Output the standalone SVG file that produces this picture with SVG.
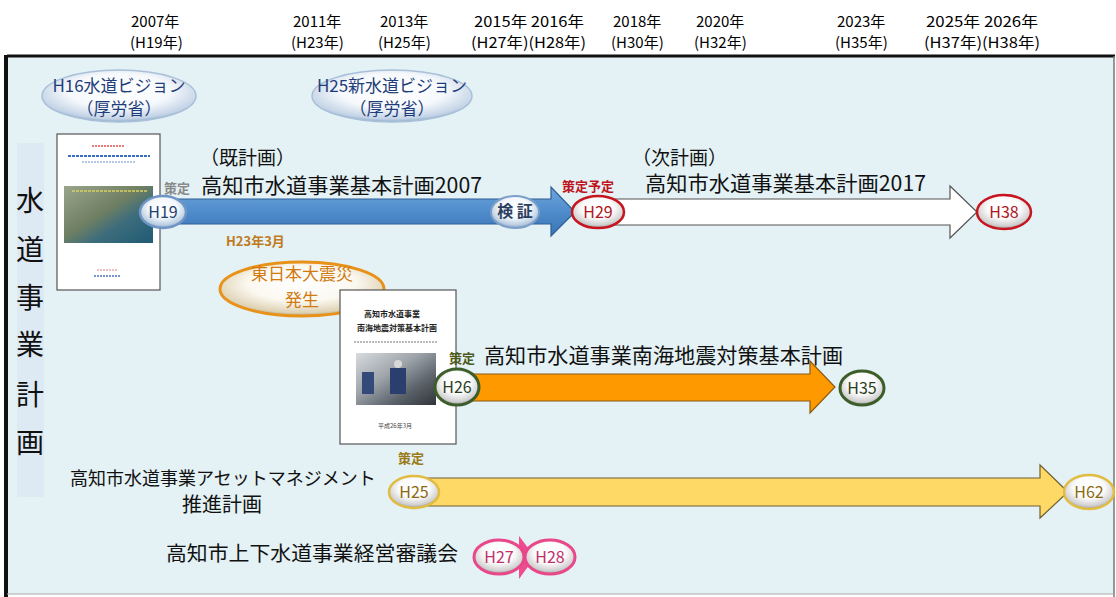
<svg xmlns="http://www.w3.org/2000/svg" width="1116" height="597" viewBox="0 0 1116 597">
<defs>
<radialGradient id="gW" cx="50%" cy="38%" r="62%">
<stop offset="0" stop-color="#ffffff"/><stop offset="0.5" stop-color="#fbfbfb"/><stop offset="0.85" stop-color="#cfcfcf"/><stop offset="1" stop-color="#9a9a9a"/>
</radialGradient>
<radialGradient id="gB" cx="50%" cy="38%" r="62%">
<stop offset="0" stop-color="#ffffff"/><stop offset="0.5" stop-color="#f4f8fc"/><stop offset="0.85" stop-color="#b9cde2"/><stop offset="1" stop-color="#7f9cc0"/>
</radialGradient>
<radialGradient id="gV" cx="50%" cy="40%" r="60%">
<stop offset="0" stop-color="#ffffff"/><stop offset="0.55" stop-color="#f6f9fc"/><stop offset="0.9" stop-color="#c3d3e6"/><stop offset="1" stop-color="#8faccb"/>
</radialGradient>
<radialGradient id="gE" cx="50%" cy="40%" r="60%">
<stop offset="0" stop-color="#ffffff"/><stop offset="0.55" stop-color="#fbf8f0"/><stop offset="0.9" stop-color="#ded2b4"/><stop offset="1" stop-color="#b8a27a"/>
</radialGradient>
<linearGradient id="gBlue" x1="0" y1="0" x2="0" y2="1">
<stop offset="0" stop-color="#6ea6dc"/><stop offset="0.5" stop-color="#4f8ccc"/><stop offset="1" stop-color="#3a74b4"/>
</linearGradient>
<linearGradient id="gPhoto1" x1="0" y1="0" x2="1" y2="1">
<stop offset="0" stop-color="#9aa58c"/><stop offset="0.45" stop-color="#6f7f62"/><stop offset="0.65" stop-color="#3d6d7c"/><stop offset="1" stop-color="#1f5a74"/>
</linearGradient>
<linearGradient id="gPhoto2" x1="0" y1="0" x2="1" y2="1">
<stop offset="0" stop-color="#d8dcdf"/><stop offset="0.4" stop-color="#9ea4aa"/><stop offset="0.7" stop-color="#5c636b"/><stop offset="1" stop-color="#2f3438"/>
</linearGradient>
<style>
text{font-family:"Noto Sans CJK JP","Noto Sans",sans-serif;}
.hd{font-size:15px;fill:#000;}
.lab{font-size:21px;fill:#111;}
.sub{font-size:19px;fill:#111;}
.vt{font-size:28px;fill:#111;text-anchor:middle;}
.nt{font-size:16px;text-anchor:middle;}
.tag{font-size:13px;font-weight:bold;}
.vis{font-size:17px;fill:#1f3d7a;text-anchor:middle;}
.conn{stroke-width:1.2;stroke-linejoin:miter;}
.doc{fill:#fff;stroke:#555;stroke-width:1.2;}
</style>
</defs>

<!-- frame -->
<rect x="7" y="56" width="1107" height="538" fill="#e4f1f5"/>
<line x1="7" y1="56" x2="1115" y2="56" stroke="#111" stroke-width="3"/>
<line x1="6" y1="55" x2="6" y2="597" stroke="#111" stroke-width="4"/>
<line x1="1114" y1="56" x2="1114" y2="597" stroke="#777" stroke-width="1.5"/>
<line x1="7" y1="594" x2="1114" y2="594" stroke="#aaa" stroke-width="1"/>

<!-- header -->
<g id="header">
<text class="hd" x="131" y="27">2007年</text><text class="hd" x="130" y="48">(H19年)</text>
<text class="hd" x="293" y="27">2011年</text><text class="hd" x="291" y="48">(H23年)</text>
<text class="hd" x="380" y="27">2013年</text><text class="hd" x="378" y="48">(H25年)</text>
<text class="hd" x="474" y="27" textLength="110" lengthAdjust="spacingAndGlyphs">2015年 2016年</text><text class="hd" x="471" y="48" textLength="115" lengthAdjust="spacingAndGlyphs">(H27年)(H28年)</text>
<text class="hd" x="613" y="27">2018年</text><text class="hd" x="611" y="48">(H30年)</text>
<text class="hd" x="696" y="27">2020年</text><text class="hd" x="694" y="48">(H32年)</text>
<text class="hd" x="837" y="27">2023年</text><text class="hd" x="835" y="48">(H35年)</text>
<text class="hd" x="926" y="27" textLength="112" lengthAdjust="spacingAndGlyphs">2025年 2026年</text><text class="hd" x="924" y="48" textLength="116" lengthAdjust="spacingAndGlyphs">(H37年)(H38年)</text>
</g>

<!-- vertical label -->
<g id="side-label">
<rect x="17" y="143" width="27" height="354" fill="#dde9f3"/>
<text class="vt" x="30" y="211">水</text>
<text class="vt" x="30" y="260">道</text>
<text class="vt" x="30" y="308">事</text>
<text class="vt" x="30" y="355">業</text>
<text class="vt" x="30" y="405">計</text>
<text class="vt" x="30" y="453">画</text>
</g>

<!-- vision ellipses -->
<g id="vision-h16">
<ellipse cx="119" cy="96" rx="77" ry="26" fill="url(#gV)" stroke="#a9c0d8" stroke-width="1.5"/>
<text class="vis" x="119" y="92">H16水道ビジョン</text>
<text class="vis" x="119" y="115">（厚労省）</text>
</g>
<g id="vision-h25">
<ellipse cx="392" cy="96" rx="80" ry="26" fill="url(#gV)" stroke="#a9c0d8" stroke-width="1.5"/>
<text class="vis" x="392" y="92">H25新水道ビジョン</text>
<text class="vis" x="392" y="115">（厚労省）</text>
</g>

<!-- document 1 -->
<g id="doc-2007">
<rect class="doc" x="57" y="134" width="103" height="156"/>
<line x1="92" y1="146" x2="124" y2="146" stroke="#e05050" stroke-width="1.5" stroke-dasharray="2 1"/>
<line x1="68" y1="156" x2="150" y2="156" stroke="#3a6fc0" stroke-width="2" stroke-dasharray="3 1"/>
<line x1="82" y1="162" x2="136" y2="162" stroke="#6a8fd0" stroke-width="1.2" stroke-dasharray="2 1"/>
<rect x="64" y="186" width="89" height="57" fill="url(#gPhoto1)"/>
<line x1="72" y1="191" x2="148" y2="191" stroke="#d8d060" stroke-width="1.5" stroke-dasharray="3 1"/>
<line x1="97" y1="270" x2="117" y2="270" stroke="#e08080" stroke-width="1.2" stroke-dasharray="2 1"/>
<line x1="94" y1="276" x2="120" y2="276" stroke="#5070c0" stroke-width="1.5" stroke-dasharray="2 1"/>
</g>

<!-- earthquake -->
<g id="quake">
<text class="tag" x="226" y="246" fill="#c07a20">H23年3月</text>
<ellipse cx="302" cy="289" rx="82" ry="27" fill="url(#gE)" stroke="#e8921a" stroke-width="3"/>
<text x="302" y="280" font-size="17" fill="#d07a10" text-anchor="middle">東日本大震災</text>
<text x="302" y="306" font-size="17" fill="#d07a10" text-anchor="middle">発生</text>
</g>

<!-- document 2 -->
<g id="doc-nankai">
<rect class="doc" x="340" y="290" width="116" height="154"/>
<text x="392" y="317" font-size="8" font-weight="bold" fill="#222" text-anchor="middle">高知市水道事業</text>
<text x="397" y="331" font-size="8" font-weight="bold" fill="#222" text-anchor="middle">南海地震対策基本計画</text>
<line x1="354" y1="342" x2="437" y2="342" stroke="#777" stroke-width="1.2" stroke-dasharray="2 1"/>
<rect x="356" y="353" width="80" height="52" fill="url(#gPhoto2)"/>
<rect x="390" y="368" width="16" height="26" fill="#2a3f6e"/>
<circle cx="398" cy="364" r="4" fill="#d8d8d8"/>
<rect x="362" y="372" width="12" height="22" fill="#344a78"/>
<text x="395" y="428" font-size="6" fill="#444" text-anchor="middle">平成26年3月</text>
</g>

<!-- connectors -->
<g id="connectors">
<polygon class="conn" points="163,199 551,199 551,187 575,212 551,236 551,224 163,224" fill="url(#gBlue)" stroke="#2e5f94"/>
<polygon class="conn" points="600,199 950,199 950,186 977,212 950,238 950,225 600,225" fill="#ffffff" stroke="#555"/>
<polygon class="conn" points="457,374 810,374 810,361 835,387 810,413 810,401 457,401" fill="#ff9900" stroke="#8a5a10"/>
<polygon class="conn" points="414,478 1040,478 1040,465 1068,492 1040,518 1040,506 414,506" fill="#ffd966" stroke="#6f6030"/>
<polygon points="499,548 519,548 519,536 535,557 519,579 519,566 499,566" fill="#ee4c8e"/>
</g>

<!-- plan 2007 -->
<g id="plan-2007">
<text x="200" y="165" class="sub">（既計画）</text>
<text x="164" y="193" class="tag" fill="#8a8a8a">策定</text>
<text x="201" y="193" class="lab" textLength="281" lengthAdjust="spacingAndGlyphs">高知市水道事業基本計画2007</text>
</g>
<g id="node-h19">
<ellipse cx="163" cy="212" rx="23" ry="16" fill="url(#gB)" stroke="#6f95c4" stroke-width="2.5"/>
<text class="nt" x="163" y="218" fill="#1e3f73">H19</text>
</g>
<g id="node-kensho">
<ellipse cx="515" cy="212" rx="24" ry="16" fill="url(#gB)" stroke="#7d9fc8" stroke-width="2"/>
<text class="nt" x="515" y="217" font-size="13" fill="#2a3f60" font-weight="bold">検 証</text>
</g>

<!-- plan 2017 -->
<g id="plan-2017">
<text x="632" y="165" class="sub">（次計画）</text>
<text x="562" y="191" class="tag" fill="#c0141c">策定予定</text>
<text x="645" y="191" class="lab" textLength="281" lengthAdjust="spacingAndGlyphs">高知市水道事業基本計画2017</text>
</g>
<g id="node-h29">
<ellipse cx="598" cy="212" rx="26" ry="16" fill="url(#gW)" stroke="#c8141e" stroke-width="2.5"/>
<text class="nt" x="598" y="218" fill="#b0141c">H29</text>
</g>
<g id="node-h38">
<ellipse cx="1004" cy="212" rx="27" ry="17" fill="url(#gW)" stroke="#c8141e" stroke-width="2.5"/>
<text class="nt" x="1004" y="218" fill="#b0141c">H38</text>
</g>

<!-- nankai plan -->
<g id="plan-nankai">
<text x="449" y="363" class="tag" font-size="15" fill="#4d5a1e">策定</text>
<text x="484" y="363" class="lab" textLength="359" lengthAdjust="spacingAndGlyphs">高知市水道事業南海地震対策基本計画</text>
</g>
<g id="node-h26">
<ellipse cx="457" cy="387" rx="22" ry="18" fill="url(#gW)" stroke="#3d5e2b" stroke-width="3"/>
<text class="nt" x="457" y="393" fill="#2c3f1e">H26</text>
</g>
<g id="node-h35">
<ellipse cx="862" cy="388" rx="22" ry="17" fill="url(#gW)" stroke="#3d5e2b" stroke-width="3"/>
<text class="nt" x="862" y="394" fill="#2c3f1e">H35</text>
</g>

<!-- asset management -->
<g id="plan-asset">
<text x="70" y="485" font-size="18" fill="#111">高知市水道事業アセットマネジメント</text>
<text x="182" y="512" font-size="20" fill="#111">推進計画</text>
<text x="398" y="463" class="tag" fill="#9a7a18">策定</text>
</g>
<g id="node-h25">
<ellipse cx="414" cy="492" rx="25" ry="16" fill="url(#gW)" stroke="#e0bc40" stroke-width="2.5"/>
<text class="nt" x="414" y="498" fill="#8a6a10">H25</text>
</g>
<g id="node-h62">
<ellipse cx="1089" cy="492" rx="25" ry="17" fill="url(#gW)" stroke="#e0bc40" stroke-width="2.5"/>
<text class="nt" x="1089" y="498" fill="#8a6a10">H62</text>
</g>

<!-- council -->
<g id="plan-council">
<text x="166" y="561" font-size="20" fill="#111" textLength="292" lengthAdjust="spacingAndGlyphs">高知市上下水道事業経営審議会</text>
</g>
<g id="node-h27">
<ellipse cx="499" cy="557" rx="25" ry="17" fill="url(#gW)" stroke="#e8478a" stroke-width="3"/>
<text class="nt" x="499" y="563" fill="#c0306a">H27</text>
</g>
<g id="node-h28">
<ellipse cx="550" cy="557" rx="25" ry="17" fill="url(#gW)" stroke="#e8478a" stroke-width="3"/>
<text class="nt" x="550" y="563" fill="#c0306a">H28</text>
</g>
</svg>
